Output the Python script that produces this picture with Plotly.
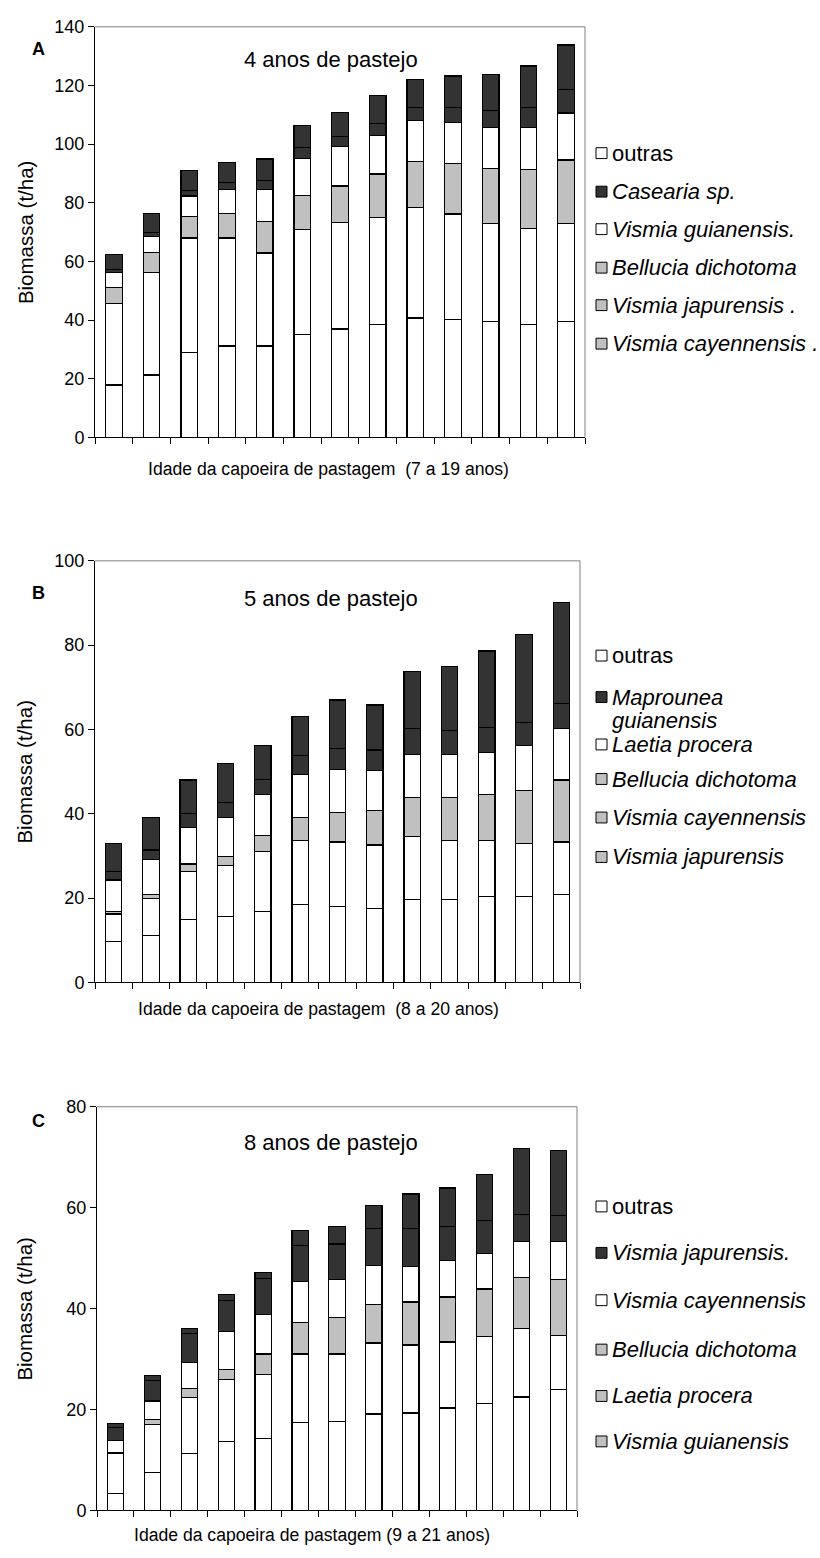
import plotly.graph_objects as go

W, H = 820, 1558

# ---------------- data ----------------
ages_a = [7, 8, 9, 10, 11, 12, 13, 14, 15, 16, 17, 18, 19]
ages_b = [8, 9, 10, 11, 12, 13, 14, 15, 16, 17, 18, 19, 20]
ages_c = [9, 10, 11, 12, 13, 14, 15, 16, 17, 18, 19, 20, 21]

# Panel A (4 anos de pastejo), stacked bottom -> top
a_v_cayennensis = [17.9, 21.3, 29.0, 31.2, 31.2, 35.1, 37.0, 38.4, 40.7, 40.1, 39.5, 38.4, 39.5]
a_v_japurensis = [27.7, 35.0, 39.0, 36.8, 31.7, 35.7, 36.4, 36.6, 37.7, 36.1, 33.5, 32.9, 33.5]
a_bellucia = [5.6, 6.7, 7.3, 8.4, 10.7, 11.7, 12.3, 14.8, 15.7, 17.3, 18.8, 20.0, 21.6]
a_v_guianensis = [5.1, 5.5, 7.0, 8.2, 11.0, 12.7, 13.4, 13.2, 14.0, 13.8, 14.0, 14.5, 16.0]
a_casearia = [1.0, 1.5, 1.9, 2.4, 3.0, 3.6, 3.4, 4.0, 4.5, 5.3, 5.6, 6.8, 8.1]
a_outras = [5.2, 6.4, 6.7, 6.7, 7.3, 7.6, 8.4, 9.7, 9.5, 10.6, 12.2, 14.0, 15.1]
a_names = ["Vismia cayennensis .", "Vismia japurensis .", "Bellucia dichotoma",
           "Vismia guianensis.", "Casearia sp.", "outras"]

# Panel B (5 anos de pastejo)
b_v_japurensis = [9.6, 11.2, 14.9, 15.7, 16.8, 18.4, 18.0, 17.6, 19.6, 19.6, 20.4, 20.4, 20.8]
b_v_cayennensis = [6.6, 8.7, 11.4, 12.1, 14.2, 15.3, 15.3, 15.0, 15.0, 14.1, 13.2, 12.6, 12.5]
b_bellucia = [0.6, 0.9, 1.8, 2.0, 3.9, 5.5, 7.0, 8.2, 9.2, 10.1, 11.0, 12.5, 14.7]
b_laetia = [7.5, 8.3, 8.7, 9.3, 9.7, 10.2, 10.2, 9.4, 10.3, 10.3, 10.0, 10.7, 12.2]
b_maprounea = [2.0, 2.3, 3.2, 3.6, 3.6, 4.5, 5.0, 4.9, 6.1, 5.7, 5.9, 5.5, 6.0]
b_outras = [6.7, 7.8, 8.0, 9.2, 8.0, 9.2, 11.5, 10.7, 13.5, 15.1, 18.1, 20.8, 23.9]
b_names = ["Vismia japurensis", "Vismia cayennensis", "Bellucia dichotoma",
           "Laetia procera", "Maprounea guianensis", "outras"]

# Panel C (8 anos de pastejo)
c_v_guianensis = [3.4, 7.6, 11.3, 13.7, 14.2, 17.4, 17.7, 19.1, 19.3, 20.3, 21.2, 22.5, 24.0]
c_laetia = [7.9, 9.4, 11.1, 12.3, 12.7, 13.6, 13.3, 14.1, 13.5, 13.1, 13.3, 13.5, 10.7]
c_bellucia = [0.2, 1.0, 1.7, 1.9, 4.1, 6.3, 7.2, 7.6, 8.5, 8.9, 9.4, 10.2, 11.1]
c_v_cayennensis = [2.3, 3.7, 5.3, 7.5, 7.8, 8.1, 7.6, 7.8, 7.0, 7.3, 7.0, 7.1, 7.5]
c_v_japurensis = [2.6, 4.1, 5.7, 6.2, 7.1, 7.1, 7.0, 7.3, 7.6, 6.7, 6.6, 5.4, 5.2]
c_outras = [0.8, 0.9, 0.9, 1.2, 1.3, 2.9, 3.5, 4.5, 6.8, 7.6, 9.0, 13.1, 12.9]
c_names = ["Vismia guianensis", "Laetia procera", "Bellucia dichotoma",
           "Vismia cayennensis", "Vismia japurensis.", "outras"]

# ---------------- styles ----------------
FONT = "Liberation Sans, Arial, sans-serif"
WHITE, GRAY, DARK = "#FFFFFF", "#C0C0C0", "#333333"
bar_colors = [WHITE, WHITE, GRAY, WHITE, DARK, DARK]          # as drawn in bars (bottom->top)
legend_colors = [GRAY, GRAY, GRAY, WHITE, DARK, WHITE]        # as drawn in legend (bottom->top)
LEG_FONT = 22


def px(xp):
    return xp / W


def py(yp):
    return 1 - yp / H


panels = [
    dict(ages=ages_a, series=[a_v_cayennensis, a_v_japurensis, a_bellucia, a_v_guianensis, a_casearia, a_outras],
         names=a_names, ymax=140, box=(95, 585, 17, 433), letter="A", letter_y=40,
         title="4 anos de pastejo", title_y=50,
         xtitle="Idade da capoeira de pastagem \u00a0(7 a 19 anos)", xtitle_xy=(328, 465),
         legend_y=[338, 299, 261, 222, 184, 145]),
    dict(ages=ages_b, series=[b_v_japurensis, b_v_cayennensis, b_bellucia, b_laetia, b_maprounea, b_outras],
         names=b_names, ymax=100, box=(95, 580, 558, 985), letter="B", letter_y=591,
         title="5 anos de pastejo", title_y=596,
         xtitle="Idade da capoeira de pastagem \u00a0(8 a 20 anos)", xtitle_xy=(318, 1012),
         legend_y=[858, 818, 779, 744, 696, 654]),
    dict(ages=ages_c, series=[c_v_guianensis, c_laetia, c_bellucia, c_v_cayennensis, c_v_japurensis, c_outras],
         names=c_names, ymax=80, box=(97, 577, 1111, 1520), letter="C", letter_y=1125,
         title="8 anos de pastejo", title_y=1147,
         xtitle="Idade da capoeira de pastagem (9 a 21 anos)", xtitle_xy=(312, 1545),
         legend_y=[1450, 1404, 1357, 1307, 1259, 1212]),
]

fig = go.Figure()
shapes, annotations = [], []
layout_axes = {}

for i, p in enumerate(panels):
    sfx = "" if i == 0 else str(i + 1)
    xa, ya = "x" + sfx, "y" + sfx
    x0, x1, y0, y1 = p["box"]
    for vals, name, col in zip(p["series"], p["names"], bar_colors):
        fig.add_trace(go.Bar(
            x=p["ages"], y=vals, name=name, xaxis=xa, yaxis=ya, width=0.44,
            marker=dict(color=col, line=dict(color="#000000", width=1.2)),
            showlegend=False,
        ))
    a0, a1 = p["ages"][0], p["ages"][-1]
    layout_axes["xaxis" + sfx] = dict(
        domain=[px(x0), px(x1)], anchor=ya, range=[a0 - 0.5, a1 + 0.5],
        tickmode="array", tickvals=[a - 0.5 for a in p["ages"]] + [a1 + 0.5],
        showticklabels=False, ticks="outside", ticklen=6, tickcolor="#000000", tickwidth=1,
        showline=True, linecolor="#000000", linewidth=1, showgrid=False, zeroline=False,
        fixedrange=True,
    )
    layout_axes["yaxis" + sfx] = dict(
        domain=[py(y1), py(y0)], anchor=xa, range=[0, p["ymax"]], dtick=20,
        ticks="outside", ticklen=6, tickcolor="#000000", tickwidth=1,
        tickfont=dict(family=FONT, size=18, color="#000000"),
        showline=True, linecolor="#000000", linewidth=1, showgrid=False, zeroline=False,
        fixedrange=True,
    )
    # plot-area frame (top and right, gray)
    shapes.append(dict(type="line", xref="paper", yref="paper", x0=px(x0), x1=px(x1), y0=py(y0), y1=py(y0),
                       line=dict(color="#808080", width=1)))
    shapes.append(dict(type="line", xref="paper", yref="paper", x0=px(x1), x1=px(x1), y0=py(y0), y1=py(y1),
                       line=dict(color="#808080", width=1)))
    # panel letter
    annotations.append(dict(text="<b>%s</b>" % p["letter"], x=px(38), y=py(p["letter_y"]), xref="paper", yref="paper",
                            showarrow=False, xanchor="center", yanchor="middle",
                            font=dict(family=FONT, size=18, color="#000000")))
    # inner title
    annotations.append(dict(text=p["title"], x=px(331), y=py(p["title_y"]), xref="paper", yref="paper",
                            showarrow=False, xanchor="center", yanchor="middle",
                            font=dict(family=FONT, size=22, color="#000000")))
    # x title
    annotations.append(dict(text=p["xtitle"], x=px(p["xtitle_xy"][0]), y=py(p["xtitle_xy"][1]),
                            xref="paper", yref="paper", showarrow=False, xanchor="center", yanchor="middle",
                            font=dict(family=FONT, size=17.6, color="#000000")))
    # y title
    annotations.append(dict(text="Biomassa (t/ha)", x=px(25), y=py((y0 + y1) / 2), xref="paper", yref="paper",
                            showarrow=False, xanchor="center", yanchor="middle", textangle=-90,
                            font=dict(family=FONT, size=20.5, color="#000000")))
    # legend (drawn top -> bottom like the original)
    for name, col, ly in zip(p["names"], legend_colors, p["legend_y"]):
        sq = 11
        shapes.append(dict(type="rect", xref="paper", yref="paper",
                           x0=px(596), x1=px(596 + sq), y0=py(ly + sq / 2), y1=py(ly - sq / 2),
                           fillcolor=col, line=dict(color="#000000", width=1)))
        lines = ["Maprounea", "guianensis"] if name == "Maprounea guianensis" else [name]
        for k, ln in enumerate(lines):
            txt = ln if ln == "outras" else "<i>%s</i>" % ln
            annotations.append(dict(text=txt, x=px(610), y=py(ly + 24 * k), xref="paper", yref="paper",
                                    showarrow=False, xanchor="left", yanchor="middle",
                                    font=dict(family=FONT, size=LEG_FONT, color="#000000")))

fig.update_layout(
    width=W, height=H, margin=dict(l=0, r=0, t=0, b=0),
    paper_bgcolor="#FFFFFF", plot_bgcolor="#FFFFFF",
    barmode="stack", showlegend=False,
    shapes=shapes, annotations=annotations,
    font=dict(family=FONT, color="#000000"),
    **layout_axes,
)

fig.write_html(
    "out.html",
    config={"displayModeBar": False},
    post_script="document.body.style.margin='0';document.body.style.overflow='hidden';",
)
